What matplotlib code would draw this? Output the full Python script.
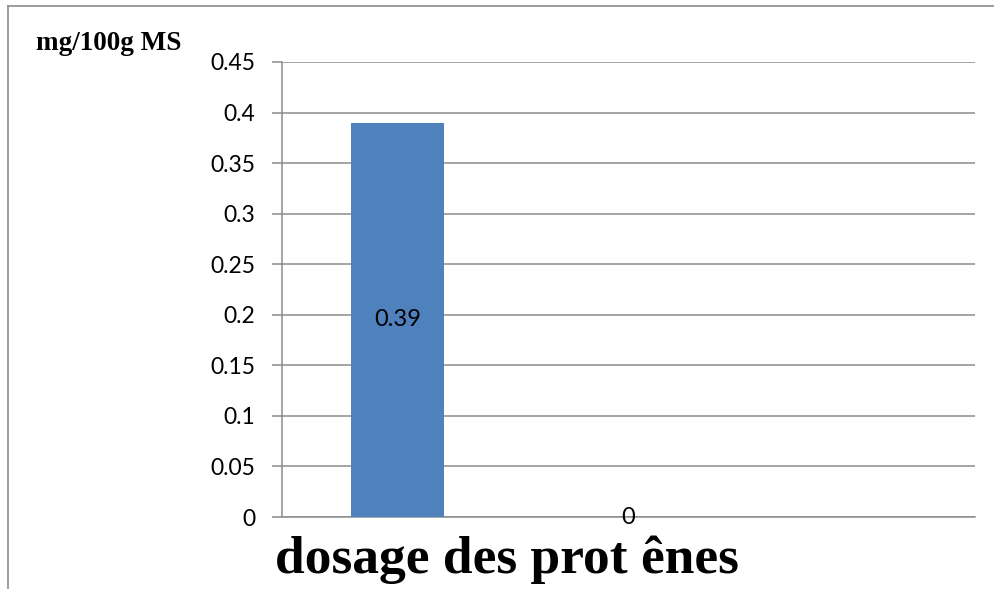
import matplotlib
matplotlib.use("Agg")
import matplotlib.pyplot as plt
from matplotlib.lines import Line2D

categories = ["", "", ""]
values = [0.39, 0.0, None]
value_labels = ["0.39", "0", None]
yticks = [0, 0.05, 0.1, 0.15, 0.2, 0.25, 0.3, 0.35, 0.4, 0.45]
ytick_labels = ["0", "0.05", "0.1", "0.15", "0.2", "0.25", "0.3", "0.35", "0.4", "0.45"]
title = "dosage des prot ênes"
ylabel = "mg/100g MS"

W, H = 995, 589
fig = plt.figure(figsize=(W / 100, H / 100), dpi=100)
ax = fig.add_axes([282 / W, 1 - 517 / H, (975 - 282) / W, (517 - 62) / H])

grid_color = "#8c8c8c"
label_font = ["Lato", "DejaVu Sans"]
xs = list(range(len(categories)))
for x, v, lab in zip(xs, values, value_labels):
    if v is None:
        continue
    ax.bar(x, v, width=0.404, color="#4F81BD", zorder=3)
    ax.text(x, v / 2, lab, ha="center", va="center", fontsize=17,
            family=label_font, zorder=4)

ax.set_xlim(-0.5, len(categories) - 0.5)
ax.set_ylim(0, 0.45)
ax.set_yticks(yticks)
ax.set_yticklabels(ytick_labels, family=label_font, fontsize=16.5)
ax.set_xticks([])
ax.yaxis.grid(True, color=grid_color, linewidth=1.1, zorder=0)
ax.tick_params(axis="y", length=7, color=grid_color, width=1.1, pad=12)
for s in ["top", "right"]:
    ax.spines[s].set_visible(False)
for s in ["left", "bottom"]:
    ax.spines[s].set_color(grid_color)
    ax.spines[s].set_linewidth(1.1)

fig.text(36 / W, 1 - 43 / H, ylabel, family="Liberation Serif", fontweight="bold",
         fontsize=19.5, ha="left", va="center")
fig.text(507 / W, 1 - 573 / H, title, family="Liberation Serif", fontweight="bold",
         fontsize=38.5, ha="center", va="baseline")

# outer frame lines (top and left)
fig.add_artist(Line2D([8 / W, 1], [1 - 6 / H, 1 - 6 / H], color="#8c8c8c", linewidth=1.2,
                      transform=fig.transFigure))
fig.add_artist(Line2D([8 / W, 8 / W], [0, 1 - 6 / H], color="#8c8c8c", linewidth=1.2,
                      transform=fig.transFigure))

fig.savefig("out.png", dpi=100)
